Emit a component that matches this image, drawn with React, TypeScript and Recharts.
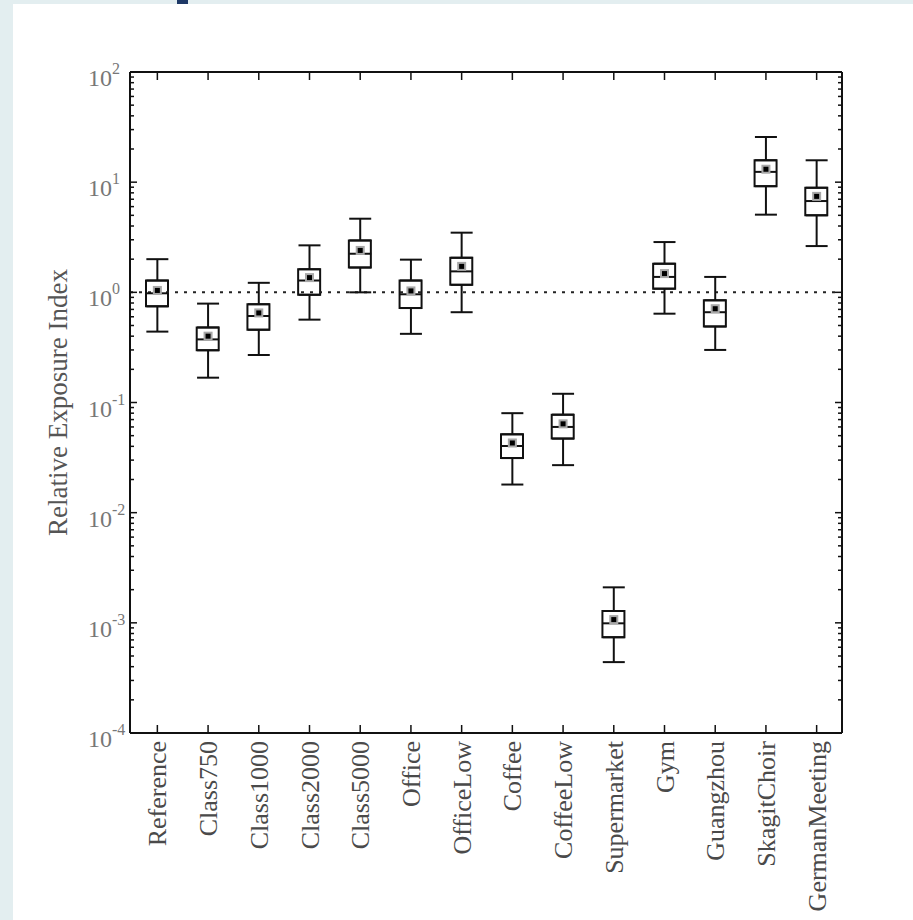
import React from 'react';
import { ComposedChart, Bar, Scatter, ErrorBar, XAxis, YAxis, ReferenceLine } from 'recharts';

const categories = ['Reference', 'Class750', 'Class1000', 'Class2000', 'Class5000', 'Office', 'OfficeLow', 'Coffee', 'CoffeeLow', 'Supermarket', 'Gym', 'Guangzhou', 'SkagitChoir', 'GermanMeeting'];
const whiskerLow = [0.44, 0.168, 0.27, 0.565, 1.0, 0.42, 0.66, 0.018, 0.027, 0.00044, 0.64, 0.30, 5.07, 2.63];
const quartile1 = [0.746, 0.298, 0.458, 0.95, 1.68, 0.72, 1.17, 0.0313, 0.047, 0.00074, 1.08, 0.49, 9.2, 5.0];
const medians = [0.98, 0.374, 0.61, 1.28, 2.24, 0.96, 1.55, 0.0403, 0.060, 0.00099, 1.38, 0.66, 12.4, 6.74];
const quartile3 = [1.28, 0.48, 0.78, 1.62, 2.96, 1.28, 2.06, 0.0514, 0.0776, 0.00128, 1.82, 0.846, 15.8, 8.9];
const whiskerHigh = [2.0, 0.79, 1.22, 2.67, 4.66, 1.98, 3.48, 0.080, 0.12, 0.0021, 2.86, 1.38, 25.7, 15.8];
const means = [1.04, 0.40, 0.65, 1.36, 2.40, 1.03, 1.72, 0.0429, 0.064, 0.00107, 1.48, 0.71, 13.1, 7.43];

const tickExponents = [-4, -3, -2, -1, 0, 1, 2];
const majorTicks = tickExponents.map((e) => Math.pow(10, e));
const minorMultipliers = [2, 3, 4, 5, 6, 7, 8, 9];
const minorTicks = tickExponents.slice(0, -1).flatMap((e) => minorMultipliers.map((m) => m * Math.pow(10, e)));
const allTicks = [...majorTicks, ...minorTicks].sort((a, b) => a - b);
const yDomain = [1e-4, 100];
const referenceValue = 1;

const data = categories.map((name, i) => ({
  name,
  box: [quartile1[i], quartile3[i]],
  q1: quartile1[i],
  q3: quartile3[i],
  median: medians[i],
  mean: means[i],
  upErr: [0, whiskerHigh[i] - quartile3[i]],
  loErr: [quartile1[i] - whiskerLow[i], 0],
}));

const SERIF = '"Liberation Serif", "DejaVu Serif", "Times New Roman", serif';
const INK = '#111';
const xPadding = { left: 2, right: 0 };
const MAJOR_LEN = 7;
const MINOR_LEN = 4;

const isMajor = (v: number) => {
  const l = Math.log10(v);
  return Math.abs(l - Math.round(l)) < 1e-6;
};

const LeftTick = (props: any) => {
  const { x, y, payload } = props;
  const v = payload.value;
  const major = isMajor(v);
  const len = major ? MAJOR_LEN : MINOR_LEN;
  return (
    <g>
      <line x1={x} x2={x + len} y1={y} y2={y} stroke={INK} strokeWidth={1.5} />
      {major ? (
        <text x={x - 42} y={y + 14} fill="#777" fontSize={24} fontFamily={SERIF} textAnchor="start">
          10
          <tspan dy={-12} fontSize={16}>{String(Math.round(Math.log10(v)))}</tspan>
        </text>
      ) : null}
    </g>
  );
};

const RightTick = (props: any) => {
  const { x, y, payload } = props;
  const len = isMajor(payload.value) ? MAJOR_LEN : MINOR_LEN;
  return <line x1={x} x2={x - len} y1={y} y2={y} stroke={INK} strokeWidth={1.5} />;
};

const CategoryTick = (props: any) => {
  const { x, y, payload } = props;
  return (
    <text
      transform={`translate(${x},${y}) rotate(-90)`}
      textAnchor="end"
      dy="0.35em"
      fontSize={26}
      fill="#4a4a4a"
      fontFamily={SERIF}
    >
      {payload.value}
    </text>
  );
};

const YTitle = (props: any) => {
  const vb = props.viewBox || { x: 0, y: 0, width: 0, height: 0 };
  return (
    <text
      transform={`translate(${vb.x + 37},${vb.y + vb.height / 2}) rotate(-90)`}
      textAnchor="middle"
      fontSize={27}
      fill="#555"
      fontFamily={SERIF}
    >
      Relative Exposure Index
    </text>
  );
};

const MedianShape = (props: any) => {
  const { cx, cy } = props;
  return <line x1={cx - 11} x2={cx + 11} y1={cy} y2={cy} stroke={INK} strokeWidth={2} />;
};

const MeanShape = (props: any) => {
  const { cx, cy } = props;
  return (
    <g>
      <rect x={cx - 4.5} y={cy - 4.5} width={9} height={9} fill="#a8a8a8" />
      <rect x={cx - 2.5} y={cy - 2.5} width={5} height={5} fill="#000" />
    </g>
  );
};

const Empty = () => <g />;

const blank = () => '';

export default function App() {
  return (
    <div style={{ position: 'absolute', left: 0, top: 0, width: 913, height: 920, background: '#e3eef0', overflow: 'hidden' }}>
      <div style={{ position: 'absolute', left: 13, top: 4, right: 0, bottom: 0, background: '#ffffff' }} />
      <div style={{ position: 'absolute', left: 177, top: 0, width: 11, height: 4, background: '#1d3866' }} />
      <div style={{ position: 'absolute', left: 0, top: 0 }}>
        <ComposedChart width={913} height={920} data={data} margin={{ top: 72, right: 71, bottom: 7, left: 30 }}>
          <XAxis
            xAxisId="x"
            dataKey="name"
            type="category"
            padding={xPadding}
            interval={0}
            height={180}
            tickLine={false}
            axisLine={{ stroke: INK, strokeWidth: 2 }}
            tick={<CategoryTick />}
          />
          <XAxis
            xAxisId="bt"
            dataKey="name"
            type="category"
            orientation="bottom"
            mirror
            padding={xPadding}
            interval={0}
            tickSize={8}
            axisLine={false}
            tickLine={{ stroke: INK, strokeWidth: 1.5 }}
            tickFormatter={blank}
          />
          <XAxis
            xAxisId="top"
            dataKey="name"
            type="category"
            orientation="top"
            mirror
            padding={xPadding}
            interval={0}
            tickSize={8}
            axisLine={{ stroke: INK, strokeWidth: 2 }}
            tickLine={{ stroke: INK, strokeWidth: 1.5 }}
            tickFormatter={blank}
          />
          <YAxis
            yAxisId="y"
            type="number"
            scale="log"
            domain={yDomain}
            allowDataOverflow
            ticks={allTicks}
            interval={0}
            width={100}
            tickSize={0}
            tickMargin={0}
            tickLine={false}
            axisLine={{ stroke: INK, strokeWidth: 2 }}
            tick={<LeftTick />}
            label={{ content: <YTitle /> }}
          />
          <YAxis
            yAxisId="r"
            orientation="right"
            type="number"
            scale="log"
            domain={yDomain}
            allowDataOverflow
            ticks={allTicks}
            interval={0}
            mirror
            tickSize={0}
            tickMargin={0}
            tickLine={false}
            axisLine={{ stroke: INK, strokeWidth: 2 }}
            tick={<RightTick />}
          />
          <ReferenceLine xAxisId="x" yAxisId="y" y={referenceValue} stroke="#222" strokeWidth={2} strokeDasharray="3 6" />
          <Bar xAxisId="x" yAxisId="y" dataKey="box" barSize={22} fill="none" stroke={INK} strokeWidth={2} isAnimationActive={false} />
          <Scatter xAxisId="x" yAxisId="y" dataKey="q3" shape={<Empty />} isAnimationActive={false}>
            <ErrorBar dataKey="upErr" direction="y" width={11} stroke={INK} strokeWidth={2} isAnimationActive={false} />
          </Scatter>
          <Scatter xAxisId="x" yAxisId="y" dataKey="q1" shape={<Empty />} isAnimationActive={false}>
            <ErrorBar dataKey="loErr" direction="y" width={11} stroke={INK} strokeWidth={2} isAnimationActive={false} />
          </Scatter>
          <Scatter xAxisId="x" yAxisId="y" dataKey="median" shape={<MedianShape />} isAnimationActive={false} />
          <Scatter xAxisId="x" yAxisId="y" dataKey="mean" shape={<MeanShape />} isAnimationActive={false} />
        </ComposedChart>
      </div>
    </div>
  );
}
